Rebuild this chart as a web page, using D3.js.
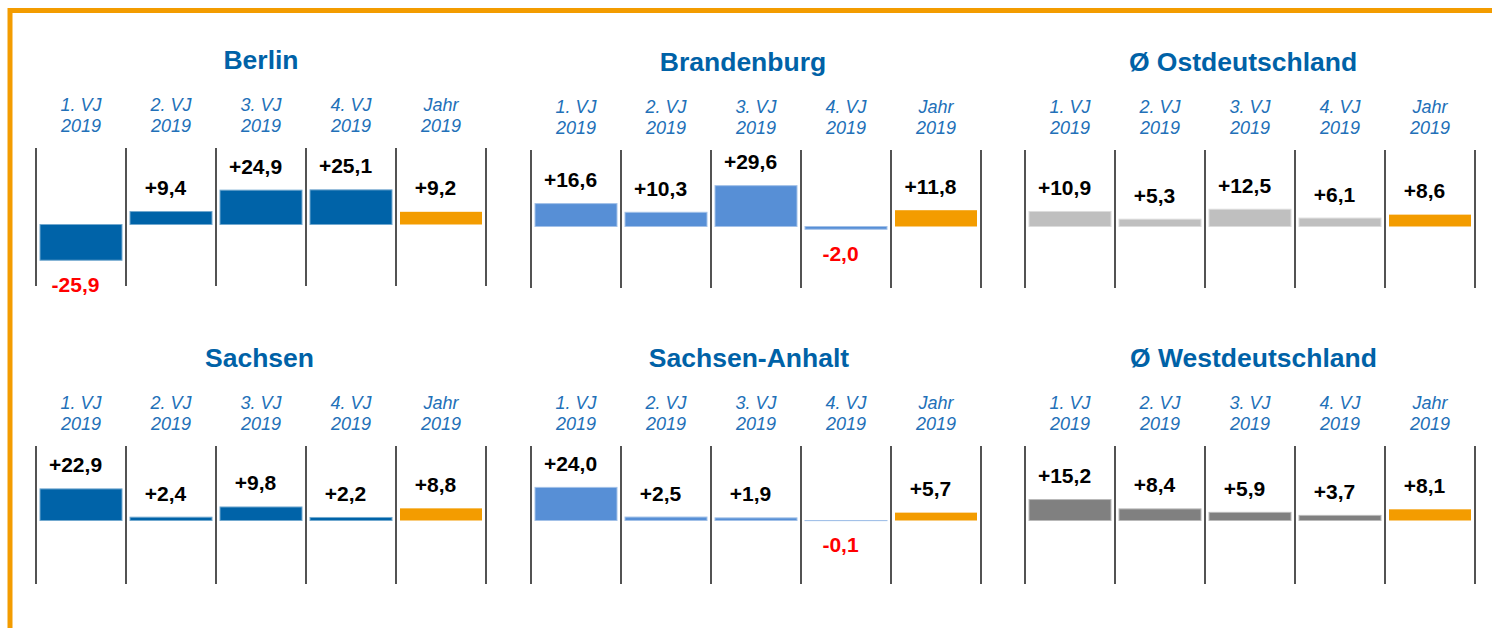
<!DOCTYPE html>
<html lang="de">
  <head>
    <meta charset="utf-8" />
    <title>Veränderung 2019 nach Vierteljahren</title>
    <script src="https://cdnjs.cloudflare.com/ajax/libs/d3/7.8.5/d3.min.js"></script>
    <style type="text/css">
      body {
        margin: 0;
        background: #fff;
      }
      svg {
        display: block;
        font-family: "Liberation Sans", Arial, sans-serif;
      }
      .title {
        font-size: 26.5px;
        font-weight: bold;
        fill: #0062a7;
      }
      .period {
        font-size: 18px;
        font-style: italic;
        fill: #2270b8;
      }
      .value {
        font-size: 21px;
        font-weight: bold;
        fill: #000;
      }
      .value.neg {
        fill: #ff0000;
      }
      .sep {
        stroke: #404040;
        stroke-width: 1.8;
      }
    </style>
  </head>

  <body>
    <div id="chart"></div>

    <script>
      // data
      const regions = [
        "Berlin",
        "Brandenburg",
        "Ø Ostdeutschland",
        "Sachsen",
        "Sachsen-Anhalt",
        "Ø Westdeutschland",
      ];
      const periods = ["1. VJ", "2. VJ", "3. VJ", "4. VJ", "Jahr"];
      const periodYear = "2019";

      const berlin = [-25.9, 9.4, 24.9, 25.1, 9.2];
      const brandenburg = [16.6, 10.3, 29.6, -2.0, 11.8];
      const ost = [10.9, 5.3, 12.5, 6.1, 8.6];
      const sachsen = [22.9, 2.4, 9.8, 2.2, 8.8];
      const sachsenAnhalt = [24.0, 2.5, 1.9, -0.1, 5.7];
      const west = [15.2, 8.4, 5.9, 3.7, 8.1];

      const series = [berlin, brandenburg, ost, sachsen, sachsenAnhalt, west];

      // styles
      const barColors = ["#0063a8", "#578fd6", "#bfbfbf", "#0063a8", "#578fd6", "#808080"];
      const yearColor = "#f39c00";

      // layout
      const W = 1492;
      const H = 628;
      const panelX = [36, 531, 1025];
      const panelW = 450;
      const rowTop = [150, 446];
      const zeroOff = [76.5, 74.5];
      const panelDy = [-2, 0, 0, 0, 0, 0];
      const titleDx = [0, -13, -7, -1.5, -7, 3.5]; // titles aren't quite centred in the original
      const lineLen = 138;

      const fmt = (v) => (v > 0 ? "+" : v < 0 ? "-" : "") + Math.abs(v).toFixed(1).replace(".", ",");

      const svg = d3
        .select("#chart")
        .append("svg")
        .attr("width", W)
        .attr("height", H);

      // orange frame (top + left)
      svg
        .append("path")
        .attr("d", `M10,${H} L10,10.5 L${W},10.5`)
        .attr("fill", "none")
        .attr("stroke", yearColor)
        .attr("stroke-width", 5);

      regions.forEach((name, i) => {
        const row = Math.floor(i / 3);
        const x0 = panelX[i % 3];
        const lt = rowTop[row] + panelDy[i];
        const zero = lt + zeroOff[row];

        const x = d3.scaleBand().domain(periods).range([x0, x0 + panelW]).padding(0);
        const y = d3.scaleLinear().domain([0, 10]).range([zero, zero - 13.8]);
        const cx = (d) => x(d) + x.bandwidth() / 2;

        const g = svg.append("g").attr("class", "panel");

        g.append("text")
          .attr("class", "title")
          .attr("x", x0 + panelW / 2 + titleDx[i])
          .attr("y", lt - 79)
          .attr("text-anchor", "middle")
          .text(name);

        // column headers
        const head = g
          .selectAll("text.period")
          .data(periods)
          .join("text")
          .attr("class", "period")
          .attr("text-anchor", "middle");
        head.append("tspan").attr("x", cx).attr("y", lt - 37.5).text((d) => d);
        head.append("tspan").attr("x", cx).attr("y", lt - 16).text(periodYear);

        // separators
        const seps = periods.map((p) => x(p)).concat([x0 + panelW]);
        g.selectAll("line.sep")
          .data(seps)
          .join("line")
          .attr("class", "sep")
          .attr("x1", (d) => d)
          .attr("x2", (d) => d)
          .attr("y1", lt)
          .attr("y2", lt + lineLen);

        const rows = periods.map((p, j) => ({ p, v: series[i][j], last: j === periods.length - 1 }));

        g.selectAll("rect.bar")
          .data(rows)
          .join("rect")
          .attr("class", "bar")
          .attr("x", (d) => x(d.p) + 4)
          .attr("width", x.bandwidth() - 8)
          .attr("y", (d) => Math.min(y(d.v), y(0)))
          .attr("height", (d) => Math.abs(y(d.v) - y(0)))
          .attr("fill", (d) => (d.last ? yearColor : barColors[i]))
          .attr("stroke", (d) => (d.last ? "none" : d3.interpolateRgb(barColors[i], "#fff")(0.45)))
          .attr("stroke-width", 1);

        g.selectAll("text.value")
          .data(rows)
          .join("text")
          .attr("class", (d) => (d.v < 0 ? "value neg" : "value"))
          .attr("text-anchor", "middle")
          .attr("x", (d) => cx(d.p) - 5.5)
          .attr("y", (d) => (d.v < 0 ? y(d.v) + 31.5 : y(d.v) - 16.5))
          .text((d) => fmt(d.v));
      });
    </script>
  </body>
</html>
